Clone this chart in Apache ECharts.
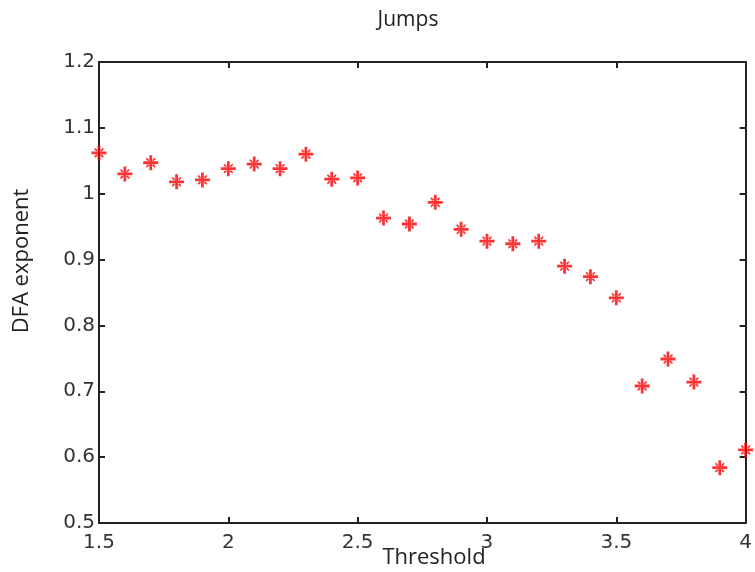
<!DOCTYPE html>
<html>
<head>
<meta charset="utf-8">
<script src="https://cdn.jsdelivr.net/npm/echarts@6/dist/echarts.min.js"></script>
<style>html,body{margin:0;padding:0;background:#fff;}#c{width:755px;height:572px;}</style>
</head>
<body>
<div id="c"></div>
<script>
const thresholds = [1.5,1.6,1.7,1.8,1.9,2.0,2.1,2.2,2.3,2.4,2.5,2.6,2.7,2.8,2.9,3.0,3.1,3.2,3.3,3.4,3.5,3.6,3.7,3.8,3.9,4.0];
const dfaExponent = [1.062,1.030,1.047,1.018,1.021,1.038,1.045,1.038,1.060,1.022,1.024,0.963,0.954,0.987,0.946,0.928,0.924,0.928,0.890,0.874,0.842,0.708,0.749,0.714,0.584,0.611];
const titleText = 'Jumps';
const xName = 'Threshold';
const yName = 'DFA exponent';

const chart = echarts.init(document.getElementById('c'), null, {renderer:'canvas'});
const lineStyle = {color:'#222', width:2};
const labelFont = {fontFamily:'DejaVu Sans, sans-serif', fontSize:20, color:'#333'};
const nameFont = {fontFamily:'Open Sans, sans-serif', fontSize:22, fill:'#222'};
// plus with diagonal arms, drawn as non-overlapping filled pieces
const star = 'path://M-1.3,-7 L1.3,-7 L1.3,-1.3 L7,-1.3 L7,1.3 L1.3,1.3 L1.3,7 L-1.3,7 L-1.3,1.3 L-7,1.3 L-7,-1.3 L-1.3,-1.3 Z'
  + ' M1.3,-2.6 L3.6,-4.6 L4.6,-3.6 L2.6,-1.3 Z M2.6,1.3 L4.6,3.6 L3.6,4.6 L1.3,2.6 Z'
  + ' M-1.3,2.6 L-3.6,4.6 L-4.6,3.6 L-2.6,1.3 Z M-2.6,-1.3 L-4.6,-3.6 L-3.6,-4.6 L-1.3,-2.6 Z';
chart.setOption({
  animation:false,
  backgroundColor:'#fff',
  title:{text:titleText, left:403, top:5, textAlign:'center',
    textStyle:{fontFamily:'Open Sans, sans-serif', fontWeight:'normal', fontSize:21, color:'#222'}},
  grid:{left:99, right:5, top:62, bottom:49, containLabel:false},
  graphic:[
    {type:'text', x:434, y:558, style:Object.assign({text:xName, textAlign:'center', textVerticalAlign:'middle'}, nameFont)},
    {type:'text', x:22, y:261, rotation:Math.PI/2, style:Object.assign({text:yName, textAlign:'center', textVerticalAlign:'middle'}, nameFont)}
  ],
  xAxis:[{
    type:'value', min:1.5, max:4, interval:0.5, position:'bottom',
    axisLine:{show:true, onZero:false, lineStyle},
    axisTick:{show:true, inside:true, length:6, lineStyle},
    axisLabel:Object.assign({margin:10, formatter:v=>String(v)}, labelFont),
    splitLine:{show:false}
  },{
    type:'value', min:1.5, max:4, interval:0.5, position:'top',
    axisLine:{show:true, onZero:false, lineStyle},
    axisTick:{show:true, inside:true, length:6, lineStyle},
    axisLabel:{show:false}, splitLine:{show:false}
  }],
  yAxis:[{
    type:'value', min:0.5, max:1.2, interval:0.1, position:'left',
    axisLine:{show:true, onZero:false, lineStyle},
    axisTick:{show:true, inside:true, length:6, lineStyle},
    axisLabel:Object.assign({margin:4, formatter:v=>String(+v.toFixed(1))}, labelFont),
    splitLine:{show:false}
  },{
    type:'value', min:0.5, max:1.2, interval:0.1, position:'right',
    axisLine:{show:true, onZero:false, lineStyle},
    axisTick:{show:true, inside:true, length:6, lineStyle},
    axisLabel:{show:false}, splitLine:{show:false}
  }],
  series:[{
    type:'scatter',
    data:thresholds.map((t,i)=>[t, dfaExponent[i]]),
    symbol:star, symbolSize:15,
    itemStyle:{color:'#ff0000'},
    clip:false
  }]
});
</script>
</body>
</html>
